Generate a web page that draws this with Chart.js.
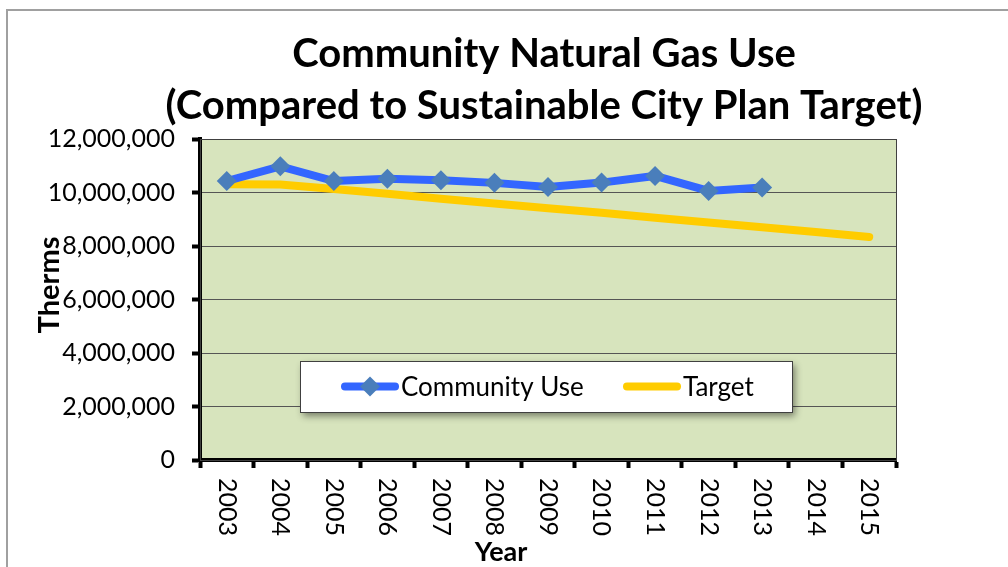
<!DOCTYPE html>
<html>
<head>
<meta charset="utf-8">
<script src="https://cdn.jsdelivr.net/npm/chart.js@4/dist/chart.umd.min.js"></script>
<style>
  html, body { margin: 0; padding: 0; background: #fff; }
  #wrap { width: 1008px; height: 567px; position: relative; }
</style>
</head>
<body>
<div id="wrap"><canvas id="gas-chart" width="1008" height="567"></canvas></div>
<script>
var years = ['2003', '2004', '2005', '2006', '2007', '2008', '2009', '2010', '2011', '2012', '2013', '2014', '2015'];
var communityUse = [10430000, 10980000, 10430000, 10510000, 10460000, 10360000, 10210000, 10370000, 10620000, 10060000, 10190000, null, null];
var target = [10310000, 10300000, 10130000, 9950000, 9770000, 9590000, 9410000, 9240000, 9060000, 8880000, 8700000, 8520000, 8340000];
var yTicks = [0, 2000000, 4000000, 6000000, 8000000, 10000000, 12000000];
var titleLines = ['Community Natural Gas Use', '(Compared to Sustainable City Plan Target)'];

var FONT = 'Lato, "Open Sans", sans-serif';

// ====frame, plot background and border====
var plotBox = {
    id: 'plotBox',
    beforeDraw: function (chart) {
        var ctx = chart.ctx, a = chart.chartArea;
        ctx.save();
        ctx.strokeStyle = '#a0a0a0';
        ctx.lineWidth = 2;
        ctx.beginPath();
        ctx.moveTo(7, 567); ctx.lineTo(7, 10); ctx.lineTo(1008, 10);
        ctx.stroke();
        ctx.fillStyle = '#d7e4bd';
        ctx.fillRect(a.left, a.top, a.right - a.left, a.bottom - a.top);
        ctx.restore();
    },
    afterDatasetsDraw: function (chart) {
        var ctx = chart.ctx, a = chart.chartArea;
        ctx.save();
        ctx.strokeStyle = '#404040';
        ctx.lineWidth = 1;
        ctx.strokeRect(a.left + 0.5, a.top + 0.5, a.right - a.left, a.bottom - a.top);
        ctx.restore();
    }
};

// ====title, rotated year labels (read top to bottom) + axis titles====
var chartText = {
    id: 'chartText',
    afterDraw: function (chart) {
        var ctx = chart.ctx, xs = chart.scales.x;
        ctx.save();
        ctx.fillStyle = '#000';
        ctx.textBaseline = 'middle';
        ctx.textAlign = 'center';
        ctx.font = 'bold 40px ' + FONT;
        titleLines.forEach(function (line, i) {
            ctx.fillText(line, 544, 54 + i * 52);
        });

        ctx.font = '25px ' + FONT;
        ctx.textAlign = 'left';
        xs.ticks.forEach(function (t, i) {
            ctx.save();
            ctx.translate(xs.getPixelForTick(i), xs.top + 18);
            ctx.rotate(Math.PI / 2);
            ctx.fillText(xs.getLabelForValue(t.value), 0, 0);
            ctx.restore();
        });
        ctx.font = 'bold 27px ' + FONT;
        ctx.textAlign = 'center';
        ctx.fillText('Year', 501, 552);
        // y axis title overlapping the tick labels
        ctx.font = 'bold 29px ' + FONT;
        ctx.translate(50, 285);
        ctx.rotate(-Math.PI / 2);
        ctx.fillText('Therms', 0, 0);
        ctx.restore();
    }
};

// ====legend box inside the plot====
var boxLegend = {
    id: 'boxLegend',
    afterDraw: function (chart) {
        var ctx = chart.ctx;
        var bx = 300, by = 361, bw = 492, bh = 51;
        ctx.save();
        ctx.shadowColor = 'rgba(0,0,0,0.45)';
        ctx.shadowBlur = 7;
        ctx.shadowOffsetX = 3;
        ctx.shadowOffsetY = 4;
        ctx.fillStyle = '#fff';
        ctx.fillRect(bx, by, bw, bh);
        ctx.shadowColor = 'transparent';
        ctx.strokeStyle = '#404040';
        ctx.lineWidth = 1;
        ctx.strokeRect(bx + 0.5, by + 0.5, bw, bh);

        var cy = by + bh / 2;
        var starts = [341, 623];
        ctx.font = '26px ' + FONT;
        ctx.textBaseline = 'middle';
        ctx.textAlign = 'left';
        chart.data.datasets.forEach(function (ds, i) {
            var x0 = starts[i];
            ctx.strokeStyle = ds.borderColor;
            ctx.lineWidth = ds.borderWidth;
            ctx.lineCap = 'round';
            ctx.beginPath();
            ctx.moveTo(x0 + 4, cy); ctx.lineTo(x0 + 54, cy);
            ctx.stroke();
            if (ds.pointRadius > 0) {
                var r = ds.pointRadius;
                ctx.fillStyle = ds.pointBackgroundColor;
                ctx.beginPath();
                ctx.moveTo(x0 + 29, cy - r); ctx.lineTo(x0 + 29 + r, cy);
                ctx.lineTo(x0 + 29, cy + r); ctx.lineTo(x0 + 29 - r, cy);
                ctx.closePath();
                ctx.fill();
            }
            ctx.fillStyle = '#000';
            ctx.fillText(ds.label, x0 + 60, cy + 1);
        });
        ctx.restore();
    }
};

var gasChart = new Chart(document.getElementById('gas-chart').getContext('2d'), {
    type: 'line',
    data: {
        labels: years,
        datasets: [{
            label: 'Community Use',
            data: communityUse,
            borderColor: '#3366ff',
            borderWidth: 8,
            pointStyle: 'rectRot',
            pointRadius: 10,
            pointBackgroundColor: '#4a7ebb',
            pointBorderColor: '#4a7ebb',
            pointBorderWidth: 0,
            spanGaps: false,
            order: 1
        }, {
            label: 'Target',
            data: target,
            borderColor: '#ffcc00',
            borderWidth: 8,
            borderCapStyle: 'round',
            pointRadius: 0,
            order: 2
        }]
    },
    options: {
        responsive: false,
        animation: false,
        layout: { padding: { left: 0, right: 112, top: 139, bottom: 0 } },
        plugins: {
            legend: { display: false },
            tooltip: { enabled: false },
            title: { display: false }
        },
        scales: {
            x: {
                offset: true,
                afterFit: function (s) { s.height = 107; },
                grid: { offset: true, drawOnChartArea: false, drawTicks: true, tickLength: 8, tickWidth: 4, tickColor: '#000' },
                border: { color: '#000', width: 4 },
                ticks: { display: false }
            },
            y: {
                min: 0,
                max: 12000000,
                afterFit: function (s) { s.width = 200; },
                afterBuildTicks: function (s) { s.ticks = yTicks.map(function (v) { return { value: v }; }); },
                grid: { color: '#555', lineWidth: 1, drawTicks: true, tickLength: 8, tickWidth: 4, tickColor: '#000' },
                border: { color: '#000', width: 4 },
                ticks: {
                    color: '#000',
                    padding: 17,
                    font: { family: FONT, size: 25 },
                    callback: function (v) { return v.toLocaleString('en-US'); }
                }
            }
        }
    },
    plugins: [plotBox, chartText, boxLegend]
});
</script>
</body>
</html>
